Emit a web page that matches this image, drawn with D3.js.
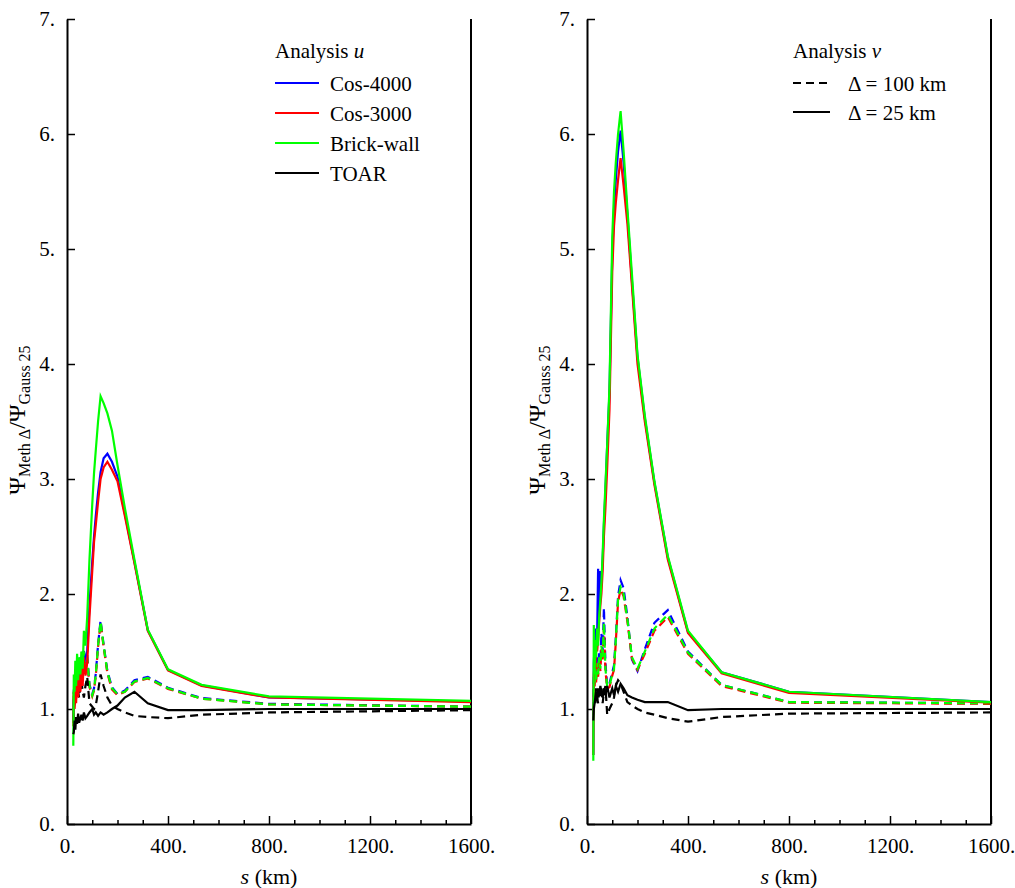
<!DOCTYPE html>
<html>
<head>
<meta charset="utf-8">
<script src="https://cdn.jsdelivr.net/npm/d3@7"></script>
<style>
  body { margin: 0; background: #fff; }
  text { font-family: "Liberation Serif", "DejaVu Serif", serif; fill: #000; }
</style>
</head>
<body>
<svg id="chart" width="1015" height="888"></svg>
<script>

// separation s (km) of each data point, largest first
var sKm = [1600, 800, 533, 400, 320, 267, 229, 200, 178, 160, 145, 133, 123, 114, 107, 100,
           89, 80, 73, 67, 62, 57, 53, 48, 44, 40, 36, 33, 30, 27, 25];

var xTicks = [0, 400, 800, 1200, 1600];
var xMinorTicks = [100, 200, 300, 500, 600, 700, 900, 1000, 1100, 1300, 1400, 1500];
var yTicks = [0, 1, 2, 3, 4, 5, 6, 7];

var methods = ["Cos-4000", "Cos-3000", "Brick-wall", "TOAR"];
var methodColors = ["#0000ff", "#ff0000", "#00ff00", "#000000"];

// Analysis u, delta = 25 km (solid)
var uCos4000_25 = [1.065, 1.10, 1.205, 1.34, 1.685, 2.28, 2.70, 3.02, 3.15, 3.22, 3.18, 3.06, 2.88, 2.68, 2.50, 2.28,
                   1.90, 1.50, 1.45, 1.40, 1.50, 1.30, 1.45, 1.25, 1.40, 1.20, 1.35, 1.15, 1.25, 1.05, 0.90];
var uCos3000_25 = [1.06, 1.10, 1.20, 1.335, 1.68, 2.27, 2.68, 2.98, 3.08, 3.15, 3.10, 3.00, 2.80, 2.60, 2.45, 2.20,
                   1.80, 1.40, 1.30, 1.45, 1.20, 1.35, 1.15, 1.30, 1.10, 1.30, 1.05, 1.25, 1.00, 1.15, 0.85];
var uBrick_25   = [1.07, 1.11, 1.21, 1.345, 1.69, 2.30, 2.75, 3.12, 3.42, 3.57, 3.66, 3.72, 3.50, 3.25, 3.05, 2.78,
                   2.30, 1.80, 1.55, 1.68, 1.35, 1.50, 1.30, 1.45, 1.25, 1.48, 1.20, 1.42, 1.15, 1.30, 0.68];
var uToar_25    = [1.00, 1.00, 0.99, 0.99, 1.05, 1.15, 1.10, 1.03, 1.00, 0.97, 0.95, 0.97, 0.94, 0.97, 0.95, 1.00,
                   0.97, 0.94, 0.92, 0.97, 0.90, 0.95, 0.92, 0.88, 0.96, 0.87, 0.93, 0.82, 0.90, 0.80, 0.78];

// Analysis u, delta = 100 km (dashed)
var uCos4000_100 = [1.02, 1.045, 1.095, 1.185, 1.28, 1.25, 1.16, 1.13, 1.19, 1.33, 1.56, 1.77, 1.56, 1.31, 1.18, 1.13,
                    1.21, 1.47, 1.32, 1.52, 1.27, 1.42, 1.22, 1.37, 1.17, 1.32, 1.12, 1.27, 1.07, 1.17, 0.92];
var uCos3000_100 = [1.02, 1.04, 1.09, 1.175, 1.265, 1.235, 1.15, 1.12, 1.17, 1.31, 1.54, 1.75, 1.54, 1.29, 1.16, 1.11,
                    1.19, 1.43, 1.29, 1.48, 1.24, 1.38, 1.19, 1.33, 1.14, 1.28, 1.09, 1.23, 1.04, 1.13, 0.88];
var uBrick_100   = [1.02, 1.04, 1.09, 1.18, 1.27, 1.24, 1.15, 1.13, 1.18, 1.32, 1.55, 1.76, 1.55, 1.30, 1.17, 1.12,
                    1.20, 1.45, 1.30, 1.50, 1.25, 1.40, 1.20, 1.35, 1.15, 1.30, 1.10, 1.25, 1.05, 1.15, 0.90];
var uToar_100    = [0.99, 0.97, 0.95, 0.92, 0.93, 0.94, 0.97, 1.00, 1.03, 1.10, 1.20, 1.30, 1.15, 1.03, 1.00, 1.02,
                    1.05, 1.28, 1.20, 1.10, 1.15, 1.25, 1.20, 1.10, 1.15, 1.20, 1.10, 1.15, 1.05, 1.00, 0.85];

// Analysis v, delta = 25 km (solid)
var vCos4000_25 = [1.06, 1.15, 1.32, 1.67, 2.32, 2.97, 3.53, 4.06, 4.72, 5.30, 5.75, 6.03, 5.85, 5.60, 5.35, 4.95,
                   3.75, 3.30, 2.90, 2.60, 2.30, 2.10, 2.20, 1.80, 2.22, 1.60, 1.70, 1.45, 1.55, 1.40, 0.60];
var vCos3000_25 = [1.055, 1.14, 1.31, 1.66, 2.30, 2.95, 3.50, 4.00, 4.68, 5.22, 5.55, 5.79, 5.60, 5.40, 5.20, 4.80,
                   3.60, 3.10, 2.75, 2.50, 2.20, 2.00, 1.90, 1.75, 1.60, 1.50, 1.55, 1.35, 1.40, 1.30, 0.60];
var vBrick_25   = [1.06, 1.15, 1.32, 1.68, 2.33, 2.98, 3.55, 4.08, 4.78, 5.35, 5.85, 6.20, 6.00, 5.75, 5.50, 5.10,
                   3.80, 3.30, 2.95, 2.65, 2.35, 2.10, 1.95, 1.80, 1.55, 1.70, 1.45, 1.60, 1.30, 1.73, 0.55];
var vToar_25    = [1.00, 1.00, 1.00, 0.99, 1.06, 1.06, 1.06, 1.08, 1.10, 1.12, 1.18, 1.22, 1.15, 1.20, 1.12, 1.18,
                   1.10, 1.20, 1.12, 1.18, 1.10, 1.15, 1.20, 1.12, 1.18, 1.08, 1.15, 1.10, 1.05, 1.00, 0.90];

// Analysis v, delta = 100 km (dashed)
var vCos4000_100 = [1.05, 1.06, 1.21, 1.50, 1.86, 1.75, 1.52, 1.33, 1.43, 1.80, 2.05, 2.12, 1.98, 1.62, 1.38, 1.32,
                    1.22, 1.20, 1.40, 1.88, 1.50, 1.66, 1.40, 1.50, 1.35, 1.45, 1.30, 1.38, 1.22, 1.28, 1.00];
var vCos3000_100 = [1.045, 1.055, 1.20, 1.48, 1.80, 1.68, 1.48, 1.34, 1.44, 1.76, 1.98, 2.04, 1.93, 1.58, 1.34, 1.29,
                    1.19, 1.18, 1.33, 1.70, 1.43, 1.52, 1.33, 1.43, 1.28, 1.38, 1.23, 1.33, 1.18, 1.23, 0.98];
var vBrick_100   = [1.05, 1.06, 1.21, 1.49, 1.82, 1.70, 1.50, 1.35, 1.45, 1.78, 2.00, 2.06, 1.95, 1.60, 1.35, 1.30,
                    1.20, 1.19, 1.35, 1.75, 1.45, 1.55, 1.35, 1.45, 1.30, 1.40, 1.25, 1.35, 1.20, 1.25, 1.00];
var vToar_100    = [0.97, 0.96, 0.93, 0.89, 0.92, 0.95, 0.97, 1.00, 1.03, 1.06, 1.15, 1.22, 1.25, 1.20, 1.10, 1.05,
                    1.00, 0.95, 1.20, 1.15, 1.05, 1.20, 1.10, 1.15, 1.05, 1.10, 1.18, 1.05, 1.12, 1.00, 0.95];

var svg = d3.select('#chart');
var plotTop = 19, plotBottom = 824;
var yscale = d3.scaleLinear().domain([0, 7]).range([plotBottom, plotTop]);

function serif(g, size) {
  g.attr("font-family", '"Liberation Serif", serif').attr("font-size", size);
}

function drawPanel(left, right, solid, dashed, legendFn) {
  var xscale = d3.scaleLinear().domain([0, 1600]).range([left, right]);
  var g = svg.append("g");

  // minor x ticks
  g.append("g")
    .attr("transform", "translate(0," + plotBottom + ")")
    .call(d3.axisBottom(xscale).tickValues(xMinorTicks).tickSize(-4).tickSizeOuter(0).tickFormat(""))
    .call(function(a) { a.select(".domain").remove(); })
    .selectAll("line").attr("stroke-width", 1.5);

  // major x axis
  var xa = g.append("g")
    .attr("transform", "translate(0," + plotBottom + ")")
    .call(d3.axisBottom(xscale).tickValues(xTicks).tickSize(-8).tickSizeOuter(0).tickPadding(14)
      .tickFormat(function(d) { return d + "."; }));
  serif(xa, 21);
  xa.selectAll("line").attr("stroke-width", 1.5);
  xa.select(".domain").attr("stroke-width", 2);

  // y axis
  var ya = g.append("g")
    .attr("transform", "translate(" + left + ",0)")
    .call(d3.axisLeft(yscale).tickValues(yTicks).tickSize(-8).tickSizeOuter(0).tickPadding(12)
      .tickFormat(function(d) { return d + "."; }));
  serif(ya, 21);
  ya.selectAll("line").attr("stroke-width", 1.5);
  ya.select(".domain").attr("stroke-width", 2);

  // right frame line
  g.append("line")
    .attr("x1", right).attr("x2", right)
    .attr("y1", plotTop).attr("y2", plotBottom)
    .attr("stroke", "#000").attr("stroke-width", 2);

  var line = d3.line()
    .x(function(d, i) { return xscale(sKm[i]); })
    .y(function(d) { return yscale(d); });

  dashed.forEach(function(vals, k) {
    g.append("path")
      .datum(vals)
      .attr("fill", "none")
      .attr("stroke", methodColors[k])
      .attr("stroke-width", 2.2)
      .attr("stroke-dasharray", "8,5")
      .attr("d", line);
  });
  solid.forEach(function(vals, k) {
    g.append("path")
      .datum(vals)
      .attr("fill", "none")
      .attr("stroke", methodColors[k])
      .attr("stroke-width", 2.2)
      .attr("d", line);
  });

  // x axis title
  var xt = g.append("text")
    .attr("x", (left + right) / 2)
    .attr("y", 884)
    .attr("text-anchor", "middle")
    .attr("font-size", 22);
  xt.append("tspan").attr("font-style", "italic").text("s");
  xt.append("tspan").text(" (km)");

  // y axis title
  var yt = g.append("text")
    .attr("transform", "translate(" + (left - 42) + ",420) rotate(-90)")
    .attr("text-anchor", "middle")
    .attr("font-size", 24);
  yt.append("tspan").text("\u03A8");
  yt.append("tspan").attr("font-size", 16).attr("dy", 5).text("Meth \u0394");
  yt.append("tspan").attr("dy", -5).text("/\u03A8");
  yt.append("tspan").attr("font-size", 16).attr("dy", 5).text("Gauss 25");

  legendFn(g, left);
}

function legendU(g, left) {
  var lx = left + 208;
  var t = g.append("text").attr("x", lx).attr("y", 58).attr("font-size", 21);
  t.append("tspan").text("Analysis ");
  t.append("tspan").attr("font-style", "italic").text("u");
  methods.forEach(function(m, k) {
    var ly = 83 + k * 30;
    g.append("line")
      .attr("x1", lx).attr("x2", lx + 44)
      .attr("y1", ly).attr("y2", ly)
      .attr("stroke", methodColors[k]).attr("stroke-width", 2);
    g.append("text").attr("x", lx + 55).attr("y", ly + 8).attr("font-size", 21).text(m);
  });
}

function legendV(g, left) {
  var lx = left + 206;
  var t = g.append("text").attr("x", lx).attr("y", 58).attr("font-size", 21);
  t.append("tspan").text("Analysis ");
  t.append("tspan").attr("font-style", "italic").text("v");
  var items = [["8,5", "\u0394 = 100 km"], [null, "\u0394 = 25 km"]];
  items.forEach(function(it, k) {
    var ly = 83 + k * 29;
    g.append("line")
      .attr("x1", lx).attr("x2", lx + 37)
      .attr("y1", ly).attr("y2", ly)
      .attr("stroke", "#000").attr("stroke-width", 2)
      .attr("stroke-dasharray", it[0]);
    g.append("text").attr("x", lx + 55).attr("y", ly + 8).attr("font-size", 21).text(it[1]);
  });
}

drawPanel(67, 471,
  [uCos4000_25, uCos3000_25, uBrick_25, uToar_25],
  [uCos4000_100, uCos3000_100, uBrick_100, uToar_100], legendU);
drawPanel(587, 991,
  [vCos4000_25, vCos3000_25, vBrick_25, vToar_25],
  [vCos4000_100, vCos3000_100, vBrick_100, vToar_100], legendV);

</script>
</body>
</html>
